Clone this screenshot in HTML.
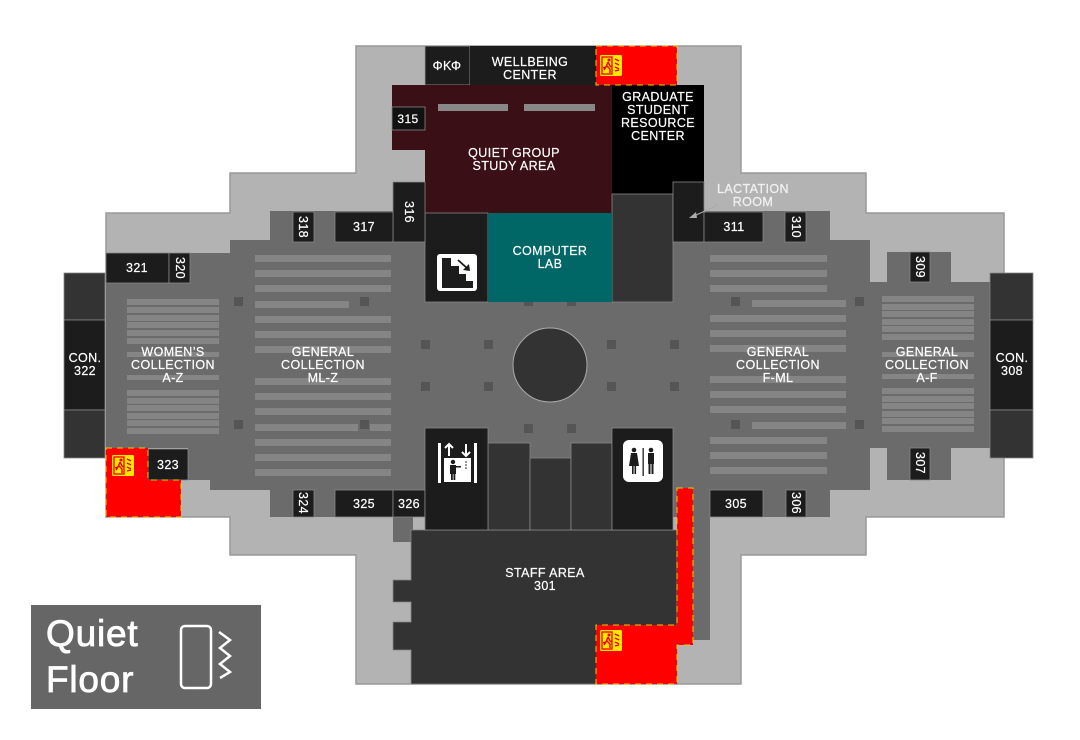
<!DOCTYPE html>
<html><head><meta charset="utf-8"><style>
html,body{margin:0;padding:0;background:#fff;}
svg{display:block;}
text{font-family:"Liberation Sans",sans-serif;fill:#fff;font-size:12.5px;text-anchor:middle;letter-spacing:0.4px;stroke:#fff;stroke-width:0.2px;}
</style></head><body>
<svg width="1080" height="740" viewBox="0 0 1080 740" xmlns="http://www.w3.org/2000/svg">
<defs>
<g id="exit">
<rect x="0" y="0" width="22" height="21" rx="1.5" fill="#ffe600"/>
<rect x="2" y="2" width="10" height="17" fill="none" stroke="#e00" stroke-width="1.3"/>
<circle cx="9" cy="5" r="1.5" fill="#e00"/>
<path d="M8 7 L6 12 L4 15 M8 7 L10 11 L12 12 M7 11 L10 14 L10 18 M6 12 L3 13" stroke="#e00" stroke-width="1.4" fill="none"/>
<path d="M15 4 l4 2 M15 8 l4 2 M15 12 l4 2 M15 16 l4 -1" stroke="#e00" stroke-width="1.3"/>
</g>
</defs>
<polygon points="356,46 741,46 741,173 866,173 866,213 1004,213 1004,517 866,517 866,555 741,555 741,684 356,684 356,555 230,555 230,517 106,517 106,213 230,213 230,173 356,173" fill="#b3b3b3" stroke="#999" stroke-width="1.5"/>
<g fill="#6b6b6b">
<rect x="270" y="211" width="560" height="306"/>
<rect x="230" y="240" width="640" height="250"/>
<rect x="106" y="253" width="130" height="195"/>
<rect x="188" y="448" width="50" height="32"/>
<rect x="210" y="448" width="60" height="42"/>
<rect x="845" y="282" width="145" height="166"/>
<rect x="887" y="252" width="64" height="35"/>
<rect x="887" y="445" width="64" height="35"/>
<rect x="693" y="490" width="17" height="150"/>
<rect x="393" y="517" width="20" height="25"/>
</g>
<g fill="#858585">
<rect x="255" y="255" width="136" height="7"/><rect x="255" y="270" width="136" height="7"/><rect x="255" y="285" width="136" height="7"/>
<rect x="255" y="301" width="94" height="7"/>
<rect x="255" y="316" width="136" height="7"/><rect x="255" y="331" width="136" height="7"/><rect x="255" y="346" width="136" height="7"/>
<rect x="255" y="378" width="136" height="7"/><rect x="255" y="393" width="136" height="7"/><rect x="255" y="408" width="136" height="7"/>
<rect x="255" y="424" width="103" height="7"/><rect x="370" y="424" width="21" height="7"/>
<rect x="255" y="439" width="136" height="7"/><rect x="255" y="454" width="136" height="7"/><rect x="255" y="469" width="136" height="7"/>
<rect x="710" y="255" width="117" height="7"/><rect x="710" y="270" width="117" height="7"/><rect x="710" y="285" width="117" height="7"/>
<rect x="752" y="300" width="94" height="7"/>
<rect x="710" y="315" width="136" height="7"/><rect x="710" y="330" width="136" height="7"/><rect x="710" y="345" width="136" height="7"/>
<rect x="710" y="376" width="136" height="7"/><rect x="710" y="391" width="136" height="7"/><rect x="710" y="406" width="136" height="7"/>
<rect x="752" y="422" width="94" height="7"/>
<rect x="710" y="437" width="117" height="7"/><rect x="710" y="452" width="117" height="7"/><rect x="710" y="467" width="117" height="7"/>
<rect x="127" y="299" width="92" height="6"/><rect x="127" y="307" width="92" height="6"/><rect x="127" y="315" width="92" height="6"/><rect x="127" y="322" width="92" height="6"/><rect x="127" y="330" width="92" height="6"/><rect x="127" y="338" width="92" height="6"/>
<rect x="127" y="352" width="92" height="5"/><rect x="127" y="375" width="92" height="5"/>
<rect x="127" y="390" width="92" height="6"/><rect x="127" y="398" width="92" height="6"/><rect x="127" y="405" width="92" height="6"/><rect x="127" y="413" width="92" height="6"/><rect x="127" y="420" width="92" height="6"/><rect x="127" y="428" width="92" height="6"/>
<rect x="882" y="296" width="92" height="6"/><rect x="882" y="304" width="92" height="6"/><rect x="882" y="311" width="92" height="6"/><rect x="882" y="319" width="92" height="6"/><rect x="882" y="326" width="92" height="6"/><rect x="882" y="334" width="92" height="6"/>
<rect x="882" y="352" width="92" height="5"/><rect x="882" y="374" width="92" height="5"/>
<rect x="882" y="388" width="92" height="6"/><rect x="882" y="396" width="92" height="6"/><rect x="882" y="403" width="92" height="6"/><rect x="882" y="411" width="92" height="6"/><rect x="882" y="418" width="92" height="6"/><rect x="882" y="426" width="92" height="6"/>
</g>
<g fill="#555">
<rect x="234" y="297" width="9" height="9"/><rect x="360" y="297" width="9" height="9"/>
<rect x="234" y="420" width="9" height="9"/><rect x="360" y="420" width="9" height="9"/>
<rect x="421" y="340" width="9" height="9"/><rect x="484" y="340" width="9" height="9"/><rect x="607" y="340" width="9" height="9"/><rect x="670" y="340" width="9" height="9"/>
<rect x="421" y="382" width="9" height="9"/><rect x="484" y="382" width="9" height="9"/><rect x="607" y="382" width="9" height="9"/><rect x="670" y="382" width="9" height="9"/>
<rect x="524" y="297" width="9" height="9"/><rect x="567" y="297" width="9" height="9"/>
<rect x="524" y="424" width="9" height="9"/><rect x="567" y="424" width="9" height="9"/>
<rect x="731" y="297" width="9" height="9"/><rect x="855" y="297" width="9" height="9"/>
<rect x="731" y="420" width="9" height="9"/><rect x="855" y="420" width="9" height="9"/>
</g>
<circle cx="550" cy="365" r="37" fill="#333" stroke="#aaa" stroke-width="1"/>
<g fill="#333" stroke="#888" stroke-width="0.8">
<polygon points="411,530 677,530 677,684 411,684 411,650 393,650 393,622 411,622 411,602 393,602 393,580 411,580"/>
<rect x="488" y="443" width="42" height="87"/>
<rect x="530" y="458" width="41" height="72"/>
<rect x="571" y="443" width="41" height="87"/>
</g>
<rect x="425" y="46" width="45" height="39" fill="#1c1c1c" stroke="#999" stroke-width="0.8"/>
<rect x="470" y="46" width="126" height="39" fill="#1c1c1c"/>
<polygon points="392,85 612,85 612,213 425,213 425,150 392,150" fill="#3a0f15"/>
<rect x="438" y="104" width="70" height="7" fill="#888"/><rect x="524" y="104" width="71" height="7" fill="#888"/>
<rect x="392" y="107" width="33" height="23" fill="#111" stroke="#888" stroke-width="0.8"/>
<rect x="612" y="85" width="92" height="109" fill="#000"/>
<rect x="612" y="194" width="61" height="108" fill="#333" stroke="#888" stroke-width="0.8"/>
<rect x="425" y="213" width="63" height="89" fill="#1c1c1c" stroke="#888" stroke-width="0.8"/>
<rect x="488" y="213" width="124" height="89" fill="#006666"/>
<rect x="437" y="254" width="40" height="37" rx="3" fill="#fff"/>
<polygon points="442,258 451,258 451,266 459,266 459,274 466,274 466,281 473,281 473,288 442,288" fill="#1c1c1c"/>
<line x1="458" y1="260" x2="468" y2="269" stroke="#1c1c1c" stroke-width="1.8"/><polygon points="470,271 463,270 469,264" fill="#1c1c1c"/>
<g fill="#1c1c1c" stroke="#888" stroke-width="0.8">
<rect x="393" y="182" width="32" height="60"/>
<rect x="335" y="212" width="58" height="30"/>
<rect x="293" y="212" width="21" height="30"/>
<rect x="673" y="182" width="31" height="60"/>
<rect x="704" y="212" width="59" height="30"/>
<rect x="785" y="212" width="21" height="30"/>
<rect x="106" y="253" width="63" height="30"/>
<rect x="169" y="253" width="21" height="30"/>
<rect x="148" y="449" width="40" height="31"/>
<rect x="293" y="490" width="21" height="27"/>
<rect x="335" y="490" width="58" height="27"/>
<rect x="393" y="490" width="32" height="27"/>
<rect x="710" y="490" width="53" height="27"/>
<rect x="786" y="490" width="20" height="27"/>
<rect x="910" y="252" width="20" height="30"/>
<rect x="910" y="448" width="20" height="32"/>
<rect x="425" y="428" width="63" height="102"/>
<rect x="612" y="428" width="61" height="102"/>
</g>
<g stroke="#888" stroke-width="0.8">
<rect x="64" y="273" width="41" height="47" fill="#333"/><rect x="64" y="320" width="41" height="90" fill="#1c1c1c"/><rect x="64" y="410" width="41" height="48" fill="#333"/>
<rect x="990" y="273" width="43" height="47" fill="#333"/><rect x="990" y="320" width="43" height="90" fill="#1c1c1c"/><rect x="990" y="410" width="43" height="48" fill="#333"/>
</g>
<g fill="#fff">
<rect x="438" y="443" width="3" height="40"/><rect x="474" y="443" width="3" height="40"/>
<rect x="444" y="458" width="27" height="24"/>
</g>
<g stroke="#fff" stroke-width="2" fill="none"><path d="M449 456 v-12 M445 448 l4 -4 l4 4 M466 444 v12 M462 452 l4 4 l4 -4"/></g>
<g fill="#1c1c1c"><circle cx="453" cy="462" r="2.2"/><rect x="450" y="465" width="6" height="9"/><rect x="451" y="473" width="1.8" height="7"/><rect x="453.5" y="473" width="1.8" height="7"/><rect x="455" y="466" width="6" height="1.5"/><circle cx="466" cy="462" r="0.8"/><circle cx="466" cy="465" r="0.8"/><circle cx="466" cy="468" r="0.8"/></g>
<rect x="623" y="440" width="40" height="42" rx="6" fill="#fff"/>
<g fill="#1c1c1c"><circle cx="634" cy="450" r="2.3"/><polygon points="631,453 637,453 639,466 629,466"/><rect x="632" y="466" width="1.6" height="8"/><rect x="634.5" y="466" width="1.6" height="8"/>
<rect x="642.5" y="448" width="1.3" height="28"/>
<circle cx="651" cy="450" r="2.3"/><rect x="648" y="453" width="6" height="11"/><rect x="648.5" y="463" width="2" height="11"/><rect x="651.5" y="463" width="2" height="11"/></g>
<g fill="#ff0000" stroke="#e6d000" stroke-width="1" stroke-dasharray="6,5">
<rect x="596" y="46" width="81" height="39"/>
<polygon points="106,448 148,448 148,480 181,480 181,517 106,517"/>
<polygon points="677,488 693,488 693,645 677,645 677,684 596,684 596,625 677,625"/>
</g>
<use href="#exit" x="600" y="55"/>
<use href="#exit" x="112" y="455"/>
<use href="#exit" x="600" y="630"/>
<text x="447" y="70">ΦΚΦ</text>
<text x="530" y="66">WELLBEING</text><text x="530" y="79">CENTER</text>
<text x="408" y="123" style="font-size:12px">315</text>
<text x="514" y="157">QUIET GROUP</text><text x="514" y="170">STUDY AREA</text>
<text x="658" y="101">GRADUATE</text><text x="658" y="114">STUDENT</text><text x="658" y="127">RESOURCE</text><text x="658" y="140">CENTER</text>
<text x="550" y="255">COMPUTER</text><text x="550" y="268">LAB</text>
<text x="753" y="193" style="fill:#eee">LACTATION</text><text x="753" y="206" style="fill:#eee">ROOM</text>
<line x1="718" y1="205" x2="694" y2="216" stroke="#aaa" stroke-width="1"/><polygon points="689,218 696,212 697,218" fill="#aaa"/>
<text x="364" y="231">317</text><text x="734" y="231">311</text><text x="137" y="272">321</text>
<text x="364" y="508">325</text><text x="409" y="508">326</text><text x="736" y="508">305</text><text x="168" y="469">323</text>
<text transform="translate(303,227) rotate(90)" y="4">318</text>
<text transform="translate(409,212) rotate(90)" y="4">316</text>
<text transform="translate(796,227) rotate(90)" y="4">310</text>
<text transform="translate(180,268) rotate(90)" y="4">320</text>
<text transform="translate(303,503) rotate(90)" y="4">324</text>
<text transform="translate(796,503) rotate(90)" y="4">306</text>
<text transform="translate(920,267) rotate(90)" y="4">309</text>
<text transform="translate(920,463) rotate(90)" y="4">307</text>
<text x="85" y="362">CON.</text><text x="85" y="375">322</text>
<text x="1012" y="362">CON.</text><text x="1012" y="375">308</text>
<text x="173" y="356">WOMEN’S</text><text x="173" y="369">COLLECTION</text><text x="173" y="382">A-Z</text>
<text x="323" y="356">GENERAL</text><text x="323" y="369">COLLECTION</text><text x="323" y="382">ML-Z</text>
<text x="778" y="356">GENERAL</text><text x="778" y="369">COLLECTION</text><text x="778" y="382">F-ML</text>
<text x="927" y="356">GENERAL</text><text x="927" y="369">COLLECTION</text><text x="927" y="382">A-F</text>
<text x="545" y="577">STAFF AREA</text><text x="545" y="590">301</text>
<rect x="31" y="605" width="230" height="104" fill="#666"/>
<text x="46" y="646" style="text-anchor:start;font-size:37px;letter-spacing:0.8px;stroke-width:0.8px">Quiet</text>
<text x="46" y="692" style="text-anchor:start;font-size:37px;letter-spacing:0.8px;stroke-width:0.8px">Floor</text>
<rect x="181" y="626" width="30" height="62" rx="4" fill="none" stroke="#fff" stroke-width="2.5"/>
<polyline points="219,632 230,640 220,648 230,656 220,664 230,672 220,678" fill="none" stroke="#fff" stroke-width="2.5"/>
</svg>
</body></html>
